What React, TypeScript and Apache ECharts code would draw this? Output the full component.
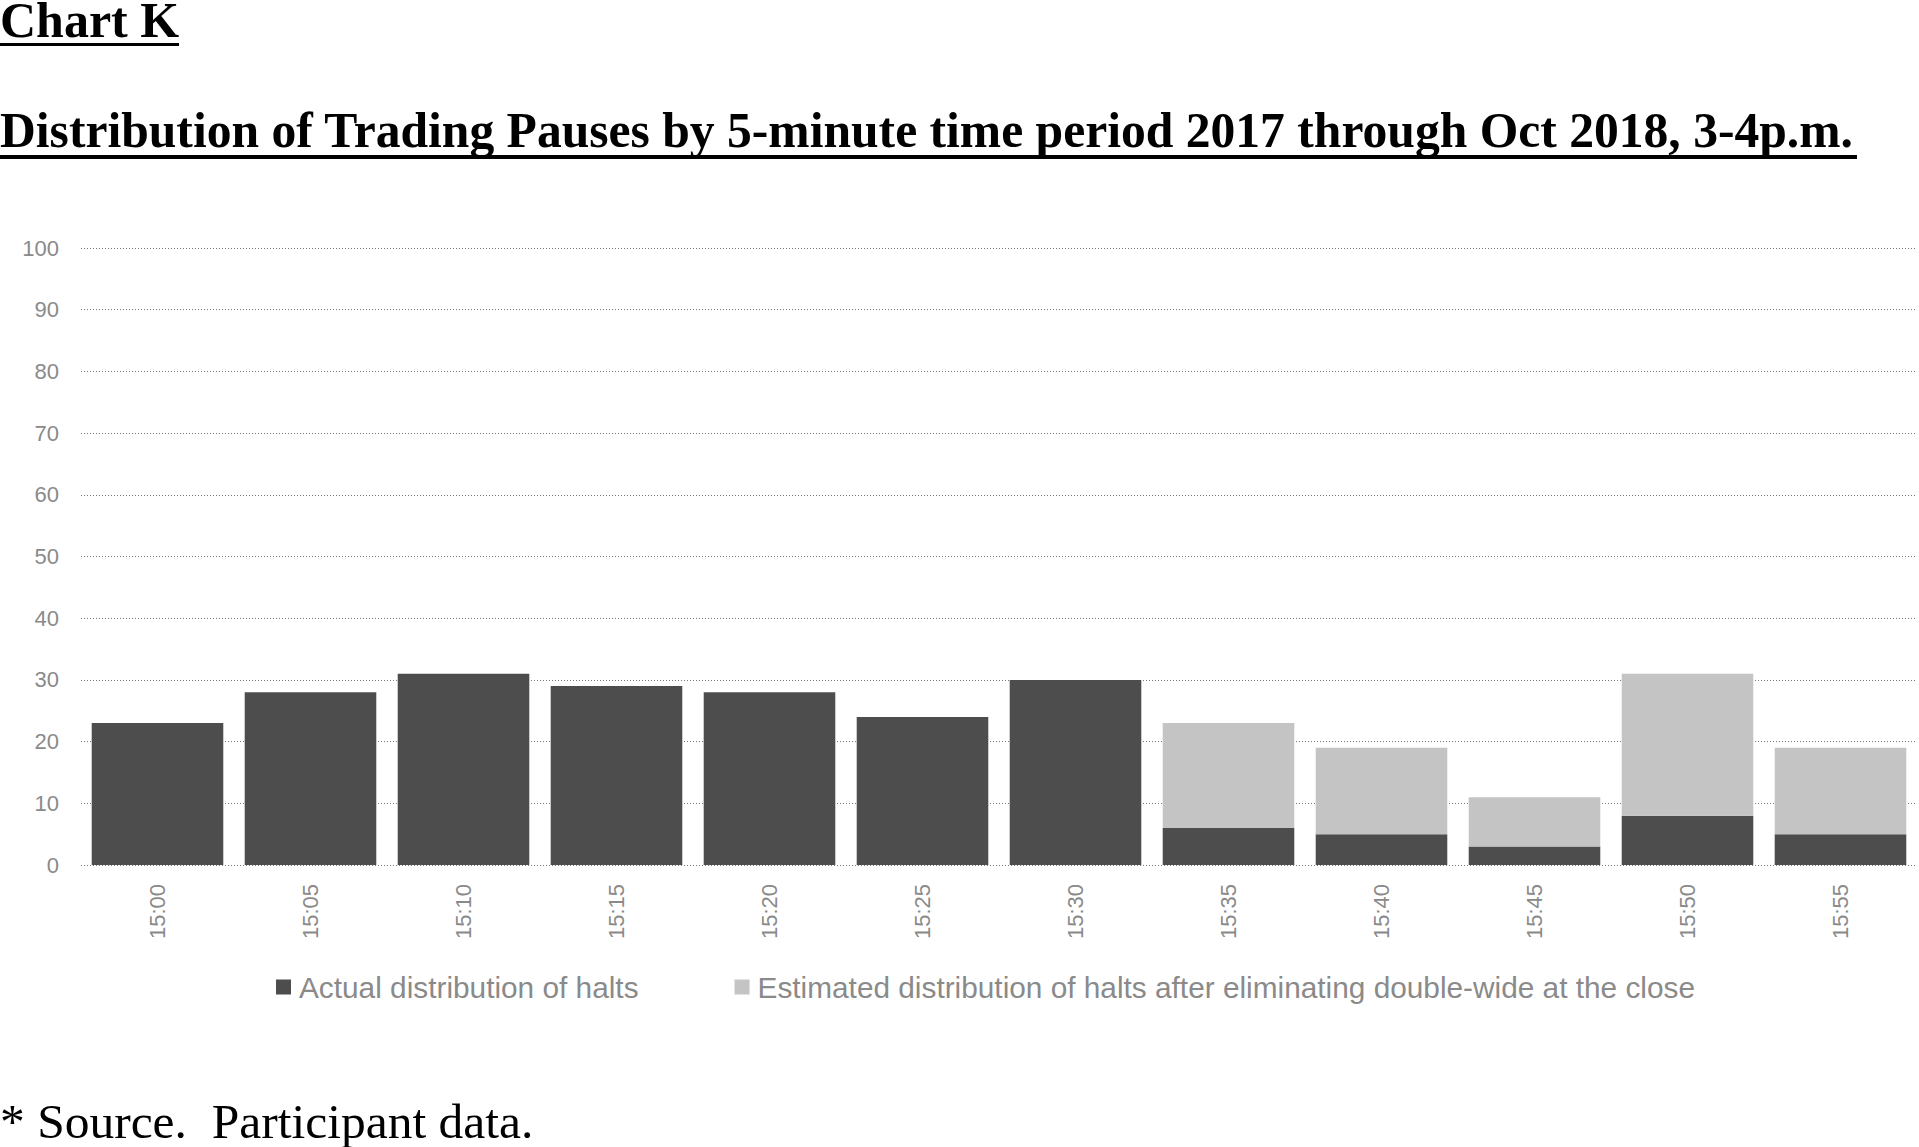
import { useEffect, useRef } from "react";
import * as echarts from "echarts";

// 5-minute periods, 3-4 p.m.
const periods = [
  "15:00", "15:05", "15:10", "15:15", "15:20", "15:25",
  "15:30", "15:35", "15:40", "15:45", "15:50", "15:55",
];
// actual halts per period
const actualHalts = [23, 28, 31, 29, 28, 24, 30, 6, 5, 3, 8, 5];
// extra halts estimated on top of actual (stacked)
const estimatedExtra = [0, 0, 0, 0, 0, 0, 0, 17, 14, 8, 23, 14];

const yTicks = { min: 0, max: 100, interval: 10 };

const chartTitle = "Chart K";
const mainTitle =
  "Distribution of Trading Pauses by 5-minute time period 2017 through Oct 2018, 3-4p.m.";
const sourceNote = "* Source.  Participant data.";
const legendNames = [
  "Actual distribution of halts",
  "Estimated distribution of halts after eliminating double-wide at the close",
];

const serif = "'Liberation Serif', 'Times New Roman', serif";
const sans = "'Liberation Sans', Arial, sans-serif";
const labelGray = "#8a8a8a";

export default function App() {
  const chartRef = useRef<HTMLDivElement>(null);

  useEffect(() => {
    if (!chartRef.current) return;
    const chart = echarts.init(chartRef.current, undefined, { renderer: "svg" });

    chart.setOption({
      animation: false,
      backgroundColor: "#fff",
      title: [
        {
          text: chartTitle,
          left: 0,
          top: 0,
          padding: 0,
          textStyle: {
            fontFamily: serif, fontWeight: "bold", fontSize: 50, lineHeight: 40, color: "#000",
          },
        },
        {
          text: mainTitle,
          left: 0,
          top: 105,
          padding: 0,
          textStyle: { fontFamily: serif, fontWeight: "bold", fontSize: 49.6, color: "#000" },
        },
        {
          text: sourceNote,
          left: 0,
          top: 1096,
          padding: 0,
          textStyle: { fontFamily: serif, fontWeight: "normal", fontSize: 49.5, color: "#000" },
        },
      ],
      // underlines of the two headings
      graphic: [
        { type: "rect", shape: { x: 0, y: 43, width: 179, height: 3 }, style: { fill: "#000" } },
        { type: "rect", shape: { x: 0, y: 155, width: 1857, height: 4 }, style: { fill: "#000" } },
      ],
      legend: {
        left: 271,
        top: 967,
        itemWidth: 21,
        itemHeight: 15,
        itemGap: 96,
        icon: "path://M0,0H10V10H0Z",
        textStyle: { fontFamily: sans, fontSize: 29.8, color: labelGray },
        data: legendNames,
      },
      grid: { left: 81, right: 2, top: 248, bottom: 282, containLabel: false },
      xAxis: {
        type: "category",
        data: periods,
        axisLine: { show: false },
        axisTick: { show: false },
        axisLabel: {
          rotate: 90,
          margin: 19,
          fontFamily: sans,
          fontSize: 22,
          color: labelGray,
        },
      },
      yAxis: {
        type: "value",
        ...yTicks,
        axisLine: { show: false },
        axisTick: { show: false },
        axisLabel: { margin: 22, fontFamily: sans, fontSize: 22, color: labelGray },
        splitLine: { lineStyle: { color: "#7a7a7a", width: 1, type: [1, 2] } },
      },
      series: [
        {
          name: legendNames[0],
          type: "bar",
          stack: "halts",
          data: actualHalts,
          barCategoryGap: "14%",
          itemStyle: { color: "#4d4d4d" },
        },
        {
          name: legendNames[1],
          type: "bar",
          stack: "halts",
          data: estimatedExtra,
          barCategoryGap: "14%",
          itemStyle: { color: "#c4c4c4" },
        },
      ],
    });

    return () => chart.dispose();
  }, []);

  return (
    <div style={{ position: "absolute", left: 0, top: 0, width: 1919, height: 1147, background: "#fff" }}>
      <div ref={chartRef} style={{ width: 1919, height: 1147 }} />
    </div>
  );
}
